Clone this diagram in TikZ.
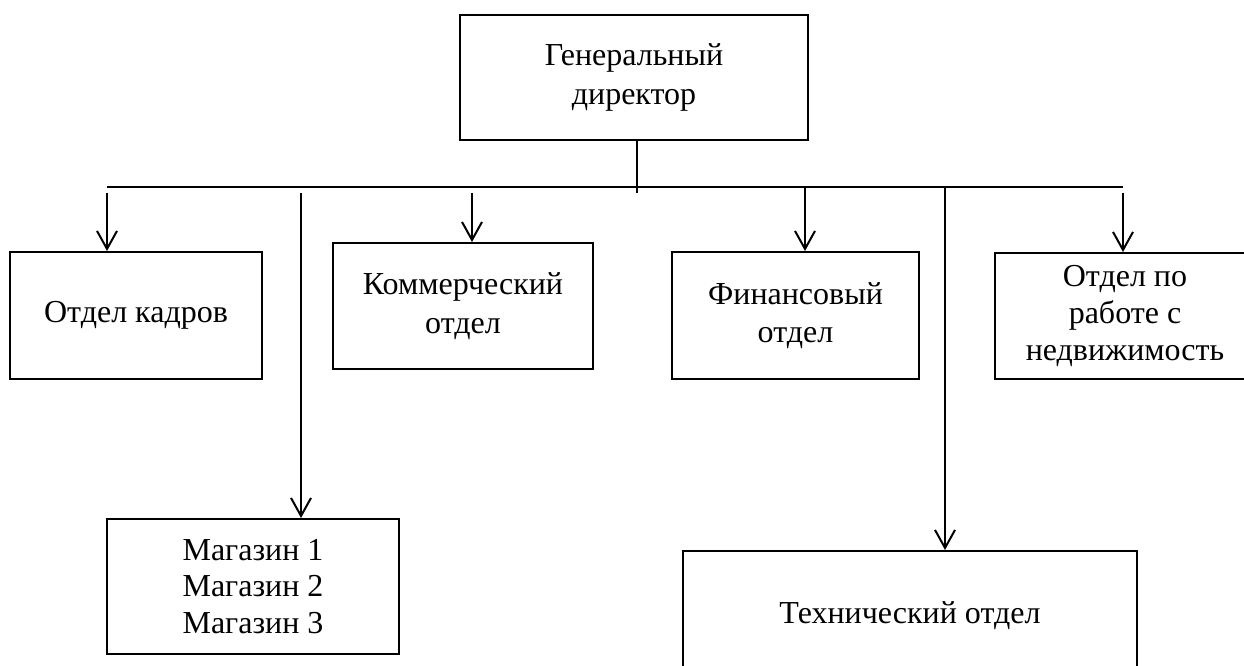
\documentclass[tikz,border=0pt]{standalone}
\usepackage{fontspec}
\setmainfont{Liberation Serif}
\usetikzlibrary{arrows.meta}

\begin{document}
\begin{tikzpicture}[
            x=0.75pt, y=-0.75pt,
            line width=1.5pt,
            box/.style={draw, rectangle, inner sep=0pt, align=center,
                font=\fontsize{24}{29}\selectfont},
            tightbox/.style={box, font=\fontsize{24}{27.5}\selectfont},
            arr/.style={-{Straight Barb[length=13.5pt,width=15pt,line width=1.5pt]}}
        ]
            \useasboundingbox (0,0) rectangle (1244,666);
            \node [box, minimum width=261pt, minimum height=93.75pt] (gendir) at (634,77.5)
                {Генеральный\\директор};
            \node [box, minimum width=189pt, minimum height=95.25pt] (kadry) at (136,315.5)
                {Отдел кадров};
            \node [box, minimum width=195pt, minimum height=94.5pt] (komm) at (463,306)
                {Коммерческий\\отдел};
            \node [box, minimum width=185.25pt, minimum height=95.25pt] (fin) at (795.5,315.5)
                {Финансовый\\отдел};
            \node [tightbox, minimum width=195pt, minimum height=94.5pt] (nedv) at (1125,316)
                {Отдел по\\работе с\\недвижимость};
            \node [tightbox, minimum width=219pt, minimum height=101.25pt] (mag) at (253,586.5)
                {Магазин 1\\Магазин 2\\Магазин 3};
            \node [box, minimum width=340.5pt, minimum height=96.75pt] (tech) at (910,615.5)
                {Технический отдел};

            \coordinate (busL) at (107,187);
            \coordinate (busR) at (1123,187);
            \coordinate (mid) at (637,193);
            \coordinate (b1) at (107,193);
            \coordinate (b2) at (301,193);
            \coordinate (b3) at (472,193);
            \coordinate (b4) at (805,187);
            \coordinate (b5) at (945,188);
            \coordinate (b6) at (1123,193);

            \draw (busL) -- (busR);
            \draw (gendir.south -| mid) -- (mid);
            \draw [arr] (b1) -- (b1 |- kadry.north);
            \draw [arr] (b2) -- (b2 |- mag.north);
            \draw [arr] (b3) -- (b3 |- komm.north);
            \draw [arr] (b4) -- (b4 |- fin.north);
            \draw [arr] (b5) -- (b5 |- tech.north);
            \draw [arr] (b6) -- (b6 |- nedv.north);
        \end{tikzpicture}
\end{document}
